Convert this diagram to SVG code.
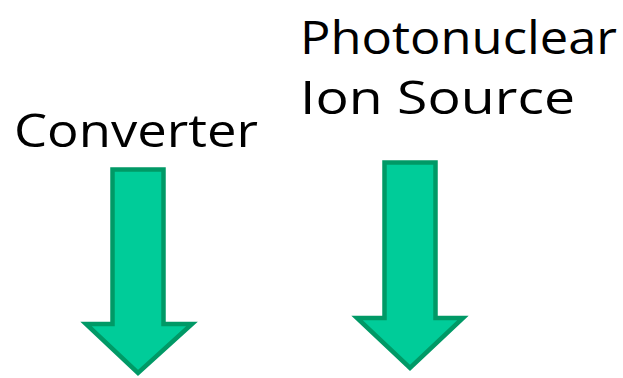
<svg xmlns="http://www.w3.org/2000/svg" width="623" height="378" viewBox="0 0 623 378">
  <style>
    .label { font-family: "Comic Sans MS", "Open Sans", "DejaVu Sans", sans-serif; font-size: 45px; fill: #000; }
    .arrow { fill: #00cc99; stroke: #009966; stroke-width: 4.5; stroke-linejoin: miter; }
  </style>
  <rect width="623" height="378" fill="#ffffff"/>
  <g id="converter">
    <text class="label" x="14" y="147" textLength="244" lengthAdjust="spacingAndGlyphs">Converter</text>
  </g>
  <g id="photonuclear-ion-source">
    <text class="label" x="300" y="54" textLength="317" lengthAdjust="spacingAndGlyphs">Photonuclear</text>
    <text class="label" x="300" y="114" textLength="275" lengthAdjust="spacingAndGlyphs">Ion Source</text>
  </g>
  <g id="connectors">
    <path class="arrow" d="M112.5,169.5 H163.5 V324 H192 L138,373 L86,324 H112.5 Z"/>
    <path class="arrow" d="M384.5,162.5 H435.5 V318 H463 L410,368 L357,318 H384.5 Z"/>
  </g>
</svg>
